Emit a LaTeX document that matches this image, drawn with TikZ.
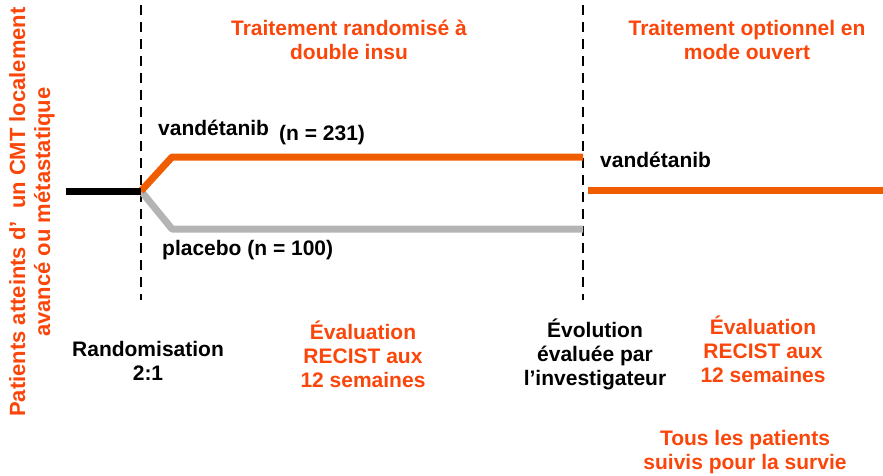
\documentclass[tikz,border=0pt]{standalone}
\usepackage{fontspec}
\setmainfont{Liberation Sans}
\begin{document}
\begin{tikzpicture}[x=1pt,y=-1pt,
  lbl/.style={font=\bfseries\fontsize{21}{24}\selectfont, align=center, inner sep=0pt, text=black},
  olbl/.style={lbl, text=txtor},
  dashline/.style={black, line width=2pt, dash pattern=on 10pt off 7pt},
  arm/.style={line width=7pt, line join=round}]
\definecolor{txtor}{RGB}{250,70,10}
\definecolor{lineor}{RGB}{240,92,0}
\definecolor{linegr}{RGB}{180,180,180}
\useasboundingbox (0,0) rectangle (883,475);
% dashed lines
\coordinate (d1t) at (141,5); \coordinate (d1b) at (141,300);
\coordinate (d2t) at (583,5); \coordinate (d2b) at (583,300);
\draw[dashline] (d1t) -- (d1b);
\draw[dashline] (d2t) -- (d2b);
% arms
\coordinate (start) at (66,191);
\coordinate (split) at (141,191);
\coordinate (vup) at (172,157);
\coordinate (vend) at (583,157);
\coordinate (pdown) at (172,229);
\coordinate (pend) at (583,229);
\coordinate (ostart) at (588,190);
\coordinate (oend) at (883,190);
\draw[arm, linegr] (split) -- (pdown) -- (pend);
\draw[arm, lineor] (split) -- (vup) -- (vend);
\draw[arm, black] (start) -- (split);
\draw[arm, lineor] (ostart) -- (oend);
% labels
\node[lbl, anchor=west] (v1) at (158,128) {vandétanib};
\node[lbl, anchor=west] (n1) at (279,135) {(n = 231)};
\node[lbl, anchor=west] (p1) at (162,250) {placebo (n = 100)};
\node[lbl, anchor=west] (v2) at (600,160) {vandétanib};
\node[olbl] (t1) at (349,40) {Traitement randomisé à\\double insu};
\node[olbl] (t2) at (747,40) {Traitement optionnel en\\mode ouvert};
\node[olbl, rotate=90, font=\bfseries\fontsize{22}{25}\selectfont] (pat) at (32,212) {Patients atteints d’\ \ un CMT localement\\avancé ou métastatique};
\node[lbl] (rand) at (148,361) {Randomisation\\2:1};
\node[olbl] (ev1) at (363,354) {Évaluation\\RECIST aux\\12 semaines};
\node[lbl] (evo) at (595,354) {Évolution\\évaluée par\\l’investigateur};
\node[olbl] (ev2) at (763,349) {Évaluation\\RECIST aux\\12 semaines};
\node[olbl] (tous) at (745,452) {Tous les patients\\suivis pour la survie};
\end{tikzpicture}
\end{document}
